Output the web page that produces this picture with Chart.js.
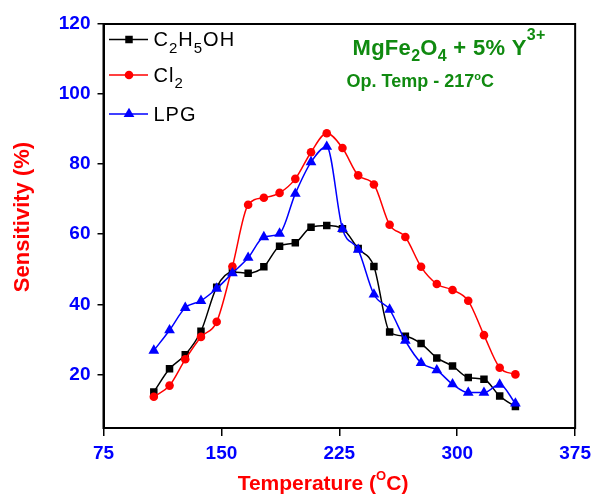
<!DOCTYPE html>
<html>
<head>
<meta charset="utf-8">
<script src="https://cdn.jsdelivr.net/npm/chart.js@4.4.1/dist/chart.umd.min.js"></script>
<style>
  html, body { margin: 0; padding: 0; background: #ffffff; }
  #wrap { width: 597px; height: 495px; position: relative; }
</style>
</head>
<body>
<div id="wrap"><canvas id="c" width="597" height="495"></canvas></div>
<script>
// ---- data ----
const temperatures = [107, 117, 127, 137, 147, 157, 167, 177, 187, 197, 207, 217,
                      227, 237, 247, 257, 267, 277, 287, 297, 307, 317, 327, 337];
const ethanol  = [15.0, 21.6, 25.6, 32.3, 44.9, 49.2, 48.9, 50.7, 56.6, 57.6, 62.0, 62.5,
                  61.6, 55.9, 50.8, 32.1, 30.9, 28.8, 24.7, 22.4, 19.1, 18.6, 13.8, 10.8];
const chlorine = [13.6, 16.8, 24.3, 30.7, 35.0, 50.8, 68.4, 70.4, 71.8, 75.8, 83.4, 88.8,
                  84.6, 76.8, 74.2, 62.7, 59.2, 50.7, 45.8, 44.1, 41.0, 31.2, 21.9, 20.0];
const lpg      = [26.8, 32.6, 39.0, 41.0, 44.5, 48.9, 53.3, 59.2, 60.2, 71.6, 80.6, 85.0,
                  61.5, 55.6, 42.8, 38.5, 29.6, 23.3, 21.2, 17.2, 14.8, 14.8, 17.1, 11.7];
const xTicks = [75, 150, 225, 300, 375];
const yTicks = [20, 40, 60, 80, 100, 120];

const FONT = '"Liberation Sans", Arial, sans-serif';
const pts = arr => arr.map((v, i) => ({ x: temperatures[i], y: v }));

// draw a run of text segments: [text, sizePx, dyPx]
function drawRich(ctx, x, y, segs, weight, color, spacing) {
  ctx.save();
  ctx.fillStyle = color;
  ctx.textAlign = 'left';
  ctx.textBaseline = 'alphabetic';
  if (spacing) ctx.letterSpacing = spacing;
  let cx = x;
  for (const [t, size, dy] of segs) {
    ctx.font = weight + ' ' + size + 'px ' + FONT;
    ctx.fillText(t, cx, y + dy);
    cx += ctx.measureText(t).width;
  }
  ctx.restore();
  return cx - x;
}
function richWidth(ctx, segs, weight) {
  let w = 0;
  ctx.save();
  for (const [t, size] of segs) { ctx.font = weight + ' ' + size + 'px ' + FONT; w += ctx.measureText(t).width; }
  ctx.restore();
  return w;
}

function marker(ctx, style, x, y, color) {
  ctx.save();
  ctx.fillStyle = color;
  ctx.beginPath();
  if (style === 'rect') {
    const s = 5.3 * Math.SQRT1_2;
    ctx.rect(x - s, y - s, 2 * s, 2 * s);
  } else if (style === 'circle') {
    ctx.arc(x, y, 4.3, 0, Math.PI * 2);
  } else {
    const r = 6.2;
    ctx.moveTo(x, y - r);
    ctx.lineTo(x + r * Math.sin(Math.PI / 3), y + r * 0.5);
    ctx.lineTo(x - r * Math.sin(Math.PI / 3), y + r * 0.5);
    ctx.closePath();
  }
  ctx.fill();
  ctx.restore();
}

const decorations = {
  id: 'decorations',
  afterDraw(chart) {
    const ctx = chart.ctx;
    const a = chart.chartArea;
    // frame
    ctx.save();
    ctx.strokeStyle = '#000';
    ctx.lineWidth = 2;
    ctx.strokeRect(a.left, a.top, a.right - a.left, a.bottom - a.top);
    ctx.restore();

    // legend
    const rows = [
      { y: 39.5, color: '#000000', style: 'rect',   segs: [['C', 20, 0], ['2', 15, 6.5], ['H', 20, 0], ['5', 15, 6.5], ['OH', 20, 0]] },
      { y: 75,   color: '#ff0000', style: 'circle', segs: [['Cl', 20, 0], ['2', 15, 6.5]] },
      { y: 114,  color: '#0000ff', style: 'triangle', segs: [['LPG', 20, 0]] }
    ];
    for (const r of rows) {
      ctx.save();
      ctx.strokeStyle = r.color;
      ctx.lineWidth = 1.5;
      ctx.beginPath();
      ctx.moveTo(109, r.y);
      ctx.lineTo(148, r.y);
      ctx.stroke();
      ctx.restore();
      marker(ctx, r.style, 129, r.y, r.color);
      drawRich(ctx, 153.5, r.y + 6.5, r.segs, 'normal', '#000', '1px');
    }

    // annotation
    const green = '#108a10';
    drawRich(ctx, 352.5, 55, [['MgFe', 22, 0], ['2', 16, 6], ['O', 22, 0], ['4', 16, 6], [' + 5% Y', 22, 0], ['3+', 16, -15]], 'bold', green, '0.3px');
    drawRich(ctx, 346.5, 86.5, [['Op. Temp - 217', 18, 0], ['o', 11, -7], ['C', 18, 0]], 'bold', green);

    // x title
    const xs = [['Temperature (', 21, 0], ['O', 13, -10], ['C)', 21, 0]];
    const w = richWidth(ctx, xs, 'bold');
    drawRich(ctx, 323 - w / 2, 490, xs, 'bold', '#ff0000');

    // y title
    ctx.save();
    ctx.translate(23, 217);
    ctx.rotate(-Math.PI / 2);
    ctx.fillStyle = '#ff0000';
    ctx.font = 'bold 22px ' + FONT;
    ctx.textAlign = 'center';
    ctx.textBaseline = 'middle';
    ctx.fillText('Sensitivity (%)', 0, 0);
    ctx.restore();
  }
};

const common = { borderWidth: 1.5, pointBorderWidth: 0, cubicInterpolationMode: 'monotone', fill: false };

new Chart(document.getElementById('c'), {
  type: 'line',
  data: {
    datasets: [
      Object.assign({ label: 'C2H5OH', data: pts(ethanol), borderColor: '#000000', backgroundColor: '#000000',
        pointStyle: 'rect', pointRadius: 5.3, order: 3 }, common),
      Object.assign({ label: 'Cl2', data: pts(chlorine), borderColor: '#ff0000', backgroundColor: '#ff0000',
        pointStyle: 'circle', pointRadius: 4.3, order: 2 }, common),
      Object.assign({ label: 'LPG', data: pts(lpg), borderColor: '#0000ff', backgroundColor: '#0000ff',
        pointStyle: 'triangle', pointRadius: 6.2, order: 1 }, common)
    ]
  },
  options: {
    responsive: false,
    animation: false,
    devicePixelRatio: 1,
    layout: { padding: { left: 0, right: 20, top: 24, bottom: 0 } },
    plugins: { legend: { display: false }, tooltip: { enabled: false }, title: { display: false } },
    scales: {
      x: {
        type: 'linear', min: 75, max: 375,
        afterBuildTicks: s => { s.ticks = xTicks.map(v => ({ value: v })); },
        afterFit: s => { s.height = 67; },
        grid: { drawOnChartArea: false, drawTicks: true, tickLength: 8, color: '#000', lineWidth: 1.5 },
        border: { color: '#000', width: 2 },
        ticks: { color: '#0000ff', font: { family: FONT, size: 19, weight: 'bold' }, padding: 6, maxRotation: 0 }
      },
      y: {
        type: 'linear', min: 4.7, max: 120,
        afterBuildTicks: s => { s.ticks = yTicks.map(v => ({ value: v })); },
        afterFit: s => { s.width = 103.5; },
        grid: { drawOnChartArea: false, drawTicks: true, tickLength: 6, color: '#000', lineWidth: 1.5 },
        border: { color: '#000', width: 2 },
        ticks: { color: '#0000ff', font: { family: FONT, size: 19, weight: 'bold' }, padding: 7 }
      }
    }
  },
  plugins: [decorations]
});
</script>
</body>
</html>
